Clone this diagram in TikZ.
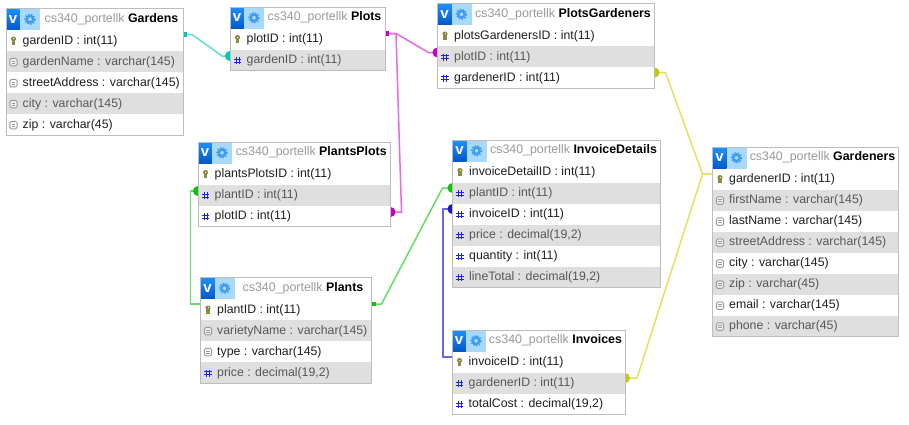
\documentclass[tikz,border=0pt]{standalone}
\usepackage{fontspec}
\setmainfont{Liberation Sans}
\usetikzlibrary{arrows.meta,backgrounds}
\definecolor{rowgray}{HTML}{DFDFDF}
\definecolor{edgegray}{HTML}{BDBDBD}
\definecolor{titlegray}{HTML}{9A9A9A}
\definecolor{keycol}{HTML}{8C8A45}
\definecolor{hashblue}{HTML}{2020D8}
\definecolor{colgray}{HTML}{9A9A9A}
\definecolor{gearblue}{HTML}{3C9DEE}
\definecolor{gearback}{HTML}{A8D8FA}
\definecolor{vtop}{HTML}{1E90FF}
\definecolor{vbot}{HTML}{0058C8}
\definecolor{turqline}{HTML}{5EDDD0}
\definecolor{turqdot}{HTML}{00C8B8}
\definecolor{magline}{HTML}{E868E0}
\definecolor{magdot}{HTML}{C800C0}
\definecolor{greenline}{HTML}{60E060}
\definecolor{greendot}{HTML}{10C010}
\definecolor{blueline}{HTML}{6868E8}
\definecolor{bluedot}{HTML}{1818C8}
\definecolor{yelline}{HTML}{E4E060}
\definecolor{yeldot}{HTML}{C8C800}
\tikzset{
  rowbox/.style={anchor=north west,inner sep=0,outer sep=0,minimum height=21},
  row0/.style={fill=rowgray},
  row1/.style={fill=white},
  text0/.style={text=black!66},
  text1/.style={text=black!88},
  rowlabel/.style={anchor=west,inner sep=0,font=\fontsize{12.3}{14}\selectfont,text height=9.5,text depth=2.5},
  headbox/.style={anchor=north west,inner sep=0,outer sep=0,minimum height=21.5},
  title/.style={inner sep=0,font=\fontsize{12.4}{14}\selectfont,text=titlegray},
  link/.style n args={2}{draw=#1,line width=1.5,{Square[length=4pt,width=4.5pt,color=#2]}-{Circle[length=10pt,color=#2]}},
  plainlink/.style n args={2}{draw=#1,line width=1.5,-{Circle[length=10pt,color=#2]}}
}
\newcommand{\iconk}[1]{\begin{scope}[shift={#1}]
  \fill[keycol] (0,-1.6) ellipse (2.6 and 2.4);
  \fill[keycol] (-1.6,-1) rectangle (1.6,4);
  \fill[white] (-.5,-2.2) rectangle (.5,-1.2);
\end{scope}}
\newcommand{\iconf}[1]{\begin{scope}[shift={#1}]
  \draw[hashblue,line width=1.1] (-1.4,-3) -- (-1.4,4) (1.6,-3) -- (1.6,4) (-3.6,-.8) -- (3.6,-.8) (-3.6,2.1) -- (3.6,2.1);
\end{scope}}
\newcommand{\iconc}[1]{\begin{scope}[shift={#1}]
  \draw[colgray,fill=white,fill opacity=.5,line width=.9,rounded corners=1.5] (-3.6,-3.2) rectangle (3.6,4.4);
  \draw[colgray,line width=.7] (-1.8,-.6) -- (1.8,-.6) (-1.8,1.4) -- (1.8,1.4);
\end{scope}}
\newcommand{\dbtable}[7]{
  \node[headbox,fill=white,minimum width=#4] (#1-0) at (#2,#3) {};
  \node[headbox,minimum width=14,top color=vtop,bottom color=vbot,text=white,font=\bfseries\fontsize{15}{15}\selectfont] (#1-v) at (#2,#3) {v};
  \node[headbox,minimum width=20,fill=gearback] (#1-g) at ({#2+14},#3) {};
  \begin{scope}[shift={(#1-g.center)}]
    \draw[gearblue,line width=2.2] (0,0) circle (3.2);
    \draw[gearblue,line width=1.5,dash pattern=on 1.6pt off 1.4pt] (0,0) circle (5);
  \end{scope}
  \node[title] (#1-t) at ({#2+34+(#4-34)/2},{#3+10.5}) {cs340\_portellk \textcolor{black}{\bfseries #5}};
  \foreach \kind/\txt [count=\i,evaluate=\i as \r using {int(mod(\i,2))}] in {#7}{
    \node[rowbox,row\r,minimum width=#4] (#1-\i) at (#2,{#3+21.5+21*(\i-1)}) {};
    \node[rowlabel,text\r] (#1-\i-t) at ([xshift=16.5]#1-\i.west) {\txt};
    \csname icon\kind\endcsname{([xshift=7.5]#1-\i.west)}
  }
  \draw[edgegray,line width=1] (#1-0.north west) rectangle (#1-#6.south east);
}
\begin{document}
\begin{tikzpicture}[x=1pt,y=-1pt]
  \useasboundingbox (0,0) rectangle (909,424);
  \dbtable{Gardens}{6}{8.5}{177}{Gardens}{5}{k/gardenID : int(11),c/gardenName : varchar(145),c/streetAddress : varchar(145),c/city : varchar(145),c/zip : varchar(45)}
  \dbtable{Plots}{230}{7}{155}{Plots}{2}{k/plotID : int(11),f/gardenID : int(11)}
  \dbtable{PlotsGardeners}{437.5}{3.5}{217}{PlotsGardeners}{3}{k/plotsGardenersID : int(11),f/plotID : int(11),f/gardenerID : int(11)}
  \dbtable{PlantsPlots}{198}{142}{192.5}{PlantsPlots}{3}{k/plantsPlotsID : int(11),f/plantID : int(11),f/plotID : int(11)}
  \dbtable{InvoiceDetails}{452.5}{140}{208}{InvoiceDetails}{6}{k/invoiceDetailID : int(11),f/plantID : int(11),f/invoiceID : int(11),f/{price : decimal(19,2)},f/quantity : int(11),f/{lineTotal : decimal(19,2)}}
  \dbtable{Plants}{200.5}{277.5}{171}{Plants}{4}{k/plantID : int(11),c/varietyName : varchar(145),c/type : varchar(145),f/{price : decimal(19,2)}}
  \dbtable{Invoices}{452}{330}{173}{Invoices}{3}{k/invoiceID : int(11),f/gardenerID : int(11),f/{totalCost : decimal(19,2)}}
  \dbtable{Gardeners}{712.5}{147}{186}{Gardeners}{8}{k/gardenerID : int(11),c/firstName : varchar(145),c/lastName : varchar(145),c/streetAddress : varchar(145),c/city : varchar(145),c/zip : varchar(45),c/email : varchar(145),c/phone : varchar(45)}
  \begin{scope}[on background layer]
    \draw[link={turqline}{turqdot}] ([yshift=6]Gardens-1.east) -- ++(9,0) -- ([xshift=-8,yshift=4]Plots-2.west) -- ([xshift=5,yshift=4]Plots-2.west);
    \draw[link={magline}{magdot}] ([yshift=5.5]Plots-1.east) -- ++(11,0) -- ([xshift=-9,yshift=4]PlotsGardeners-2.west) -- ([xshift=5,yshift=4]PlotsGardeners-2.west);
    \draw[link={magline}{magdot}] ([yshift=5.5]Plots-1.east) -- ++(11,0) -- ([xshift=11,yshift=4]PlantsPlots-3.east) -- ([xshift=-5,yshift=4]PlantsPlots-3.east);
    \draw[plainlink={greenline}{greendot}] ([yshift=5.5]Plants-1.west) -- ++(-10,0) -- ([xshift=-7.5,yshift=4]PlantsPlots-2.west) -- ([xshift=5,yshift=4]PlantsPlots-2.west);
    \draw[link={greenline}{greendot}] ([yshift=5.5]Plants-1.east) -- ++(10,0) -- ([xshift=-10,yshift=5]InvoiceDetails-2.west) -- ([xshift=5,yshift=5]InvoiceDetails-2.west);
    \draw[plainlink={blueline}{bluedot}] ([yshift=5]Invoices-1.west) -- ++(-9,0) -- ([xshift=-9.5,yshift=5]InvoiceDetails-3.west) -- ([xshift=5,yshift=5]InvoiceDetails-3.west);
    \draw[plainlink={yelline}{yeldot}] ([yshift=5]Gardeners-1.west) -- ++(-10,0) -- ([xshift=11,yshift=5]PlotsGardeners-3.east) -- ([xshift=-5,yshift=5]PlotsGardeners-3.east);
    \draw[plainlink={yelline}{yeldot}] ([yshift=5]Gardeners-1.west) -- ++(-10,0) -- ([xshift=12,yshift=5]Invoices-2.east) -- ([xshift=-5,yshift=5]Invoices-2.east);
  \end{scope}
\end{tikzpicture}
\end{document}
